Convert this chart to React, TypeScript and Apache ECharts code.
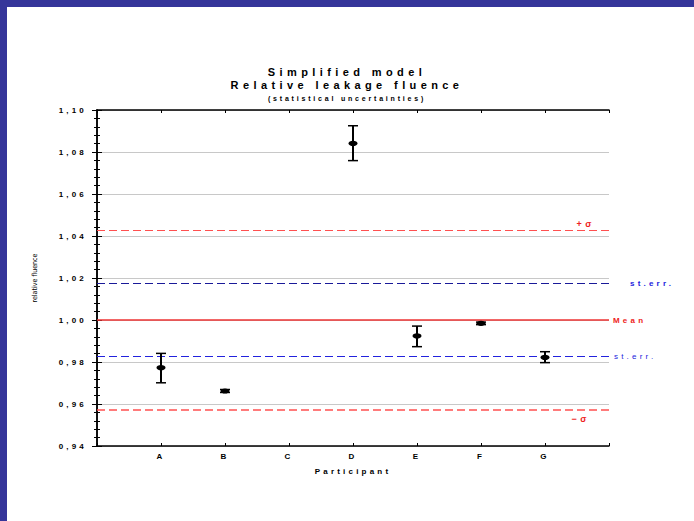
import React, { useEffect, useRef } from "react";
import * as echarts from "echarts";

const categories = ["A", "B", "C", "D", "E", "F", "G"];
const means: (number | null)[] = [0.9773, 0.9662, null, 1.0841, 0.9924, 0.9984, 0.9822];
const lows: (number | null)[] = [0.9701, 0.9655, null, 1.0759, 0.9873, 0.9978, 0.9797];
const highs: (number | null)[] = [0.9841, 0.9669, null, 1.0925, 0.9971, 0.999, 0.9849];

const meanLine = 1.0;
const sigmaUpper = 1.0429;
const sigmaLower = 0.9571;
const stErrUpper = 1.0175;
const stErrLower = 0.9825;

const yTicks = { min: 0.94, max: 1.1, interval: 0.02 };

const FONT = "'Liberation Sans', Arial, sans-serif";

export default function App() {
  const ref = useRef<HTMLDivElement>(null);
  useEffect(() => {
    document.body.style.margin = "0";
    if (!ref.current) return;
    const chart = echarts.init(ref.current, null, { renderer: "svg" });
    const data = categories
      .map((c, i) => [i + 1, means[i], lows[i], highs[i]])
      .filter((d) => d[1] != null);
    const yAxisBase = {
      type: "value",
      min: yTicks.min,
      max: yTicks.max,
      interval: yTicks.interval,
      axisLine: { show: true, lineStyle: { color: "#000", width: 1.5 } },
      axisTick: { show: true, inside: true, length: 5, lineStyle: { color: "#000" } },
      minorTick: { show: true, splitNumber: 5, length: 3, lineStyle: { color: "#000" } },
    };
    chart.setOption({
      animation: false,
      backgroundColor: "#fff",
      title: [
        { text: "Simplified model", left: "center", top: 61, textStyle: { fontFamily: FONT, fontSize: 11, fontWeight: "bold", color: "#000" } },
        { text: "Relative leakage fluence", left: "center", top: 74, textStyle: { fontFamily: FONT, fontSize: 11, fontWeight: "bold", color: "#000" } },
        { text: "(statistical uncertainties)", left: "center", top: 90, textStyle: { fontFamily: FONT, fontSize: 7, fontWeight: "bold", color: "#000" } },
      ],
      graphic: [
        { type: "rect", shape: { x: 0, y: 0, width: 694, height: 7 }, style: { fill: "#35359a" } },
        { type: "rect", shape: { x: 0, y: 0, width: 7, height: 521 }, style: { fill: "#35359a" } },
      ],
      grid: { left: 97, top: 110, right: 85, bottom: 75 },
      xAxis: [
        {
          type: "value",
          min: 0,
          max: 8,
          interval: 1,
          axisLine: { show: true, onZero: false, lineStyle: { color: "#000", width: 1.5 } },
          axisTick: { show: true, inside: true, length: 3, lineStyle: { color: "#000" } },
          splitLine: { show: false },
          axisLabel: {
            formatter: (v: number) => categories[v - 1] ?? "",
            fontFamily: FONT,
            fontSize: 8,
            fontWeight: "bold",
            color: "#000",
            margin: 6,
          },
          name: "Participant",
          nameLocation: "middle",
          nameGap: 21,
          nameTextStyle: { fontFamily: FONT, fontSize: 8, fontWeight: "bold", color: "#000" },
        },
        {
          type: "value",
          position: "top",
          min: 0,
          max: 8,
          interval: 1,
          axisLine: { show: true, onZero: false, lineStyle: { color: "#000", width: 1.5 } },
          axisTick: { show: true, inside: true, length: 3, lineStyle: { color: "#000" } },
          splitLine: { show: false },
          axisLabel: { show: false },
        },
      ],
      yAxis: [
        {
          ...yAxisBase,
          position: "left",
          splitLine: { show: true, lineStyle: { color: "#c8c8c8", width: 1 } },
          axisLabel: {
            formatter: (v: number) => v.toFixed(2).replace(".", ","),
            fontFamily: FONT,
            fontSize: 8,
            fontWeight: "bold",
            color: "#000",
            margin: 10,
          },
          name: "relative fluence",
          nameLocation: "middle",
          nameGap: 59,
          nameTextStyle: { fontFamily: "'DejaVu Sans Condensed', 'DejaVu Sans'", fontSize: 7, color: "#000" },
        },
        {
          ...yAxisBase,
          position: "right",
          splitLine: { show: false },
          axisLabel: { show: false },
        },
      ],
      series: [
        {
          type: "custom",
          xAxisIndex: 0,
          yAxisIndex: 0,
          data,
          renderItem: (params: any, api: any) => {
            const x = api.value(0);
            const c = api.coord([x, api.value(1)]);
            const lo = api.coord([x, api.value(2)]);
            const hi = api.coord([x, api.value(3)]);
            const capW = 5;
            return {
              type: "group",
              children: [
                { type: "line", shape: { x1: lo[0], y1: lo[1], x2: hi[0], y2: hi[1] }, style: { stroke: "#000", lineWidth: 2 } },
                { type: "line", shape: { x1: hi[0] - capW, y1: hi[1], x2: hi[0] + capW, y2: hi[1] }, style: { stroke: "#000", lineWidth: 1.5 } },
                { type: "line", shape: { x1: lo[0] - capW, y1: lo[1], x2: lo[0] + capW, y2: lo[1] }, style: { stroke: "#000", lineWidth: 1.5 } },
                { type: "ellipse", shape: { cx: c[0], cy: c[1], rx: 4.5, ry: 2.6 }, style: { fill: "#000" } },
              ],
            };
          },
          z: 5,
          markLine: {
            silent: true,
            symbol: "none",
            animation: false,
            precision: 4,
            z: 3,
            data: [
              {
                yAxis: meanLine,
                lineStyle: { color: "#ee3333", type: "solid", width: 1.5 },
                label: { show: true, formatter: "Mean", position: "end", distance: 4, color: "#ee2222", fontFamily: FONT, fontSize: 8, fontWeight: "bold" },
              },
              {
                yAxis: sigmaUpper,
                lineStyle: { color: "#ff5050", type: [8, 4], width: 1 },
                label: { show: true, formatter: "+σ", position: "insideEndTop", distance: 1, padding: [0, 13, 0, 0], color: "#ee2222", fontFamily: FONT, fontSize: 9, fontWeight: "bold" },
              },
              {
                yAxis: sigmaLower,
                lineStyle: { color: "#ff5050", type: [8, 4], width: 1.5 },
                label: { show: true, formatter: "−σ", position: "insideEndBottom", distance: 4, padding: [0, 15, 0, 0], color: "#ee2222", fontFamily: FONT, fontSize: 9, fontWeight: "bold" },
              },
              {
                yAxis: stErrUpper,
                lineStyle: { color: "#1a1a99", type: [8, 4], width: 1.2 },
                label: { show: true, formatter: "st.err.", position: "end", distance: 21, color: "#2222dd", fontFamily: FONT, fontSize: 8, fontWeight: "bold" },
              },
              {
                yAxis: stErrLower,
                lineStyle: { color: "#2222dd", type: [8, 4], width: 1.2 },
                label: { show: true, formatter: "st.err.", position: "end", distance: 5, color: "#2222dd", fontFamily: FONT, fontSize: 8 },
              },
            ],
          },
        },
      ],
    });
    return () => chart.dispose();
  }, []);
  return (
    <>
      <style>{`#chartbox svg text { letter-spacing: 0.4em; } #chartbox svg text[style*="DejaVu"] { letter-spacing: 0; }`}</style>
      <div id="chartbox" ref={ref} style={{ width: 694, height: 521 }} />
    </>
  );
}
